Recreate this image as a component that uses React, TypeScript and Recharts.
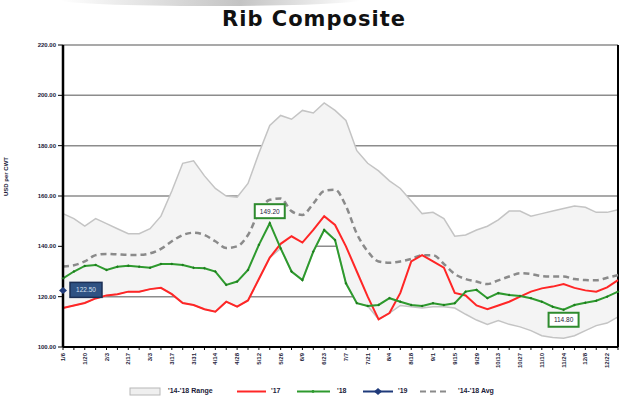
import { ComposedChart, Area, Line, XAxis, YAxis, CartesianGrid, ReferenceLine, LabelList } from 'recharts';

const weeks = [
  '1/6', '1/13', '1/20', '1/27', '2/3', '2/10', '2/17', '2/24', '3/3', '3/10',
  '3/17', '3/24', '3/31', '4/7', '4/14', '4/21', '4/28', '5/5', '5/12', '5/19',
  '5/26', '6/2', '6/9', '6/16', '6/23', '6/30', '7/7', '7/14', '7/21', '7/28',
  '8/4', '8/11', '8/18', '8/25', '9/1', '9/8', '9/15', '9/22', '9/29', '10/6',
  '10/13', '10/20', '10/27', '11/3', '11/10', '11/17', '11/24', '12/1', '12/8', '12/15',
  '12/22', '12/29',
];

const rangeMax = [
  153, 151, 148, 151, 149, 147, 145, 145, 147, 152,
  162, 173, 174, 168, 163, 160, 159.5, 165, 177, 188,
  192, 190.5, 194, 193, 197, 194, 190, 178, 173, 170,
  166, 163, 158, 153, 153.5, 151, 144, 144.5, 146.5, 148,
  150.5, 154, 154, 152, 153, 154, 155, 156, 155.5, 153.5,
  153.5, 154.5,
];

const rangeMin = [
  115.5, 116.5, 117.5, 119.3, 120.5, 121, 122, 122, 123, 123.5,
  121, 117.5, 116.7, 115, 114, 118, 116, 118.5, 127, 135.5,
  139.2, 130, 126.6, 137.9, 146.5, 142.5, 125.3, 117.4, 116.3, 111,
  113.5, 116.5, 116, 115.5, 116, 116, 115.5, 113, 110.7, 109,
  110.5, 109, 108, 106.5, 104.5, 103.8, 103.5, 104.5, 106.5, 108.5,
  109.5, 112,
];

const avgVals = [
  132, 132.5, 134, 136.5, 137, 136.8, 136.6, 136.6, 137.2, 139,
  142, 144.5, 145.4, 144.5, 142, 139.3, 140, 144.5, 153.5, 158.5,
  159, 154, 152.5, 157, 162, 162.5, 156, 145, 138, 134,
  133.5, 134, 135, 136.5, 136.5, 133, 129, 127, 126, 125,
  126.5, 128, 129.3, 129, 128.2, 128, 128, 127, 126.6, 126.5,
  127.5, 128.6,
];

const vals17 = [
  115.5, 116.5, 117.5, 119.3, 120.5, 121, 122, 122, 123, 123.5,
  121, 117.5, 116.7, 115, 114, 118, 116, 118.5, 127, 135.5,
  141, 144, 141.5, 146.5, 152, 148.5, 140, 130, 120, 111,
  113.5, 121.5, 134, 136.5, 134, 131.5, 121.5, 120.5, 116.5, 115,
  116.5, 118, 120, 122, 123.3, 124, 125, 123.5, 122.5, 122,
  123.7, 126.6,
];

const vals18 = [
  127.3, 130, 132.2, 132.6, 130.6, 131.9, 132.3, 131.9, 131.5, 133,
  133, 132.6, 131.5, 131.3, 130, 124.7, 126, 130.6, 140.6, 149.2,
  139.2, 130, 126.6, 137.9, 146.5, 142.5, 125.3, 117.4, 116.3, 116.7,
  119.4, 118, 116.7, 116.3, 117.4, 116.7, 117.4, 122, 122.7, 119.4,
  121.4, 120.7, 120.3, 119.4, 118, 116, 114.8, 116.7, 117.6, 118.4,
  120, 122,
];

const vals19 = [122.5];

const yTicks = [100, 120, 140, 160, 180, 200, 220];

const data = weeks.map((w, i) => ({
  week: w,
  range: [rangeMin[i], rangeMax[i]],
  avg: avgVals[i],
  y17: vals17[i],
  y18: vals18[i],
  y19: i < vals19.length ? vals19[i] : null,
}));

const max18 = Math.max(...vals18);
const min18 = Math.min(...vals18);

const smallFont = '"Liberation Sans", Arial, sans-serif';
const textColor = '#1c1c3a';

const WeekTick = (props: any) => {
  const { x, y, payload, index } = props;
  if (index % 2 !== 0) return null;
  return (
    <g transform={`translate(${x},${y + 1}) rotate(-90)`}>
      <text textAnchor="end" dy={2} fontSize={6} fontWeight="bold" fontFamily={smallFont} fill={textColor}>
        {payload.value}
      </text>
    </g>
  );
};

const Label18 = (props: any) => {
  const { x, y, value } = props;
  if (value !== max18 && value !== min18) return null;
  const above = value === max18;
  const bx = x - 15;
  const by = above ? y - 19 : y + 3;
  return (
    <g>
      <rect x={bx} y={by} width={30} height={14} fill="#fff" stroke="#2e8b2e" strokeWidth={2} />
      <text x={x} y={by + 9.5} textAnchor="middle" fontSize={6.5} fontFamily={smallFont} fill={textColor}>
        {Number(value).toFixed(2)}
      </text>
    </g>
  );
};

const Label19 = (props: any) => {
  const { x, y, value } = props;
  if (value == null) return null;
  return (
    <g>
      <rect x={x + 7} y={y - 8} width={32} height={15} fill="#2f5283" stroke="#1b2f55" strokeWidth={1.5} />
      <text x={x + 23} y={y + 2} textAnchor="middle" fontSize={6.5} fontFamily={smallFont} fill="#d6e0f0">
        {Number(value).toFixed(2)}
      </text>
    </g>
  );
};

const Diamond = (props: any) => {
  const { cx, cy, value } = props;
  if (value == null || cx == null) return <g />;
  return <path d={`M${cx - 4},${cy} L${cx},${cy - 3.5} L${cx + 4},${cy} L${cx},${cy + 3.5} Z`} fill="#1f3a7a" />;
};

const legendText: React.CSSProperties = {
  position: 'absolute',
  top: 0,
  fontSize: 7,
  fontWeight: 'bold',
  fontFamily: smallFont,
  color: textColor,
  lineHeight: '10px',
};

function ChartLegend() {
  return (
    <div style={{ position: 'absolute', left: 0, top: 386, width: 621, height: 12 }}>
      <svg width={621} height={12} style={{ position: 'absolute', left: 0, top: 0 }}>
        <rect x={130} y={2} width={30} height={7} fill="#efefef" stroke="#b8b8b8" strokeWidth={1} />
        <line x1={237} y1={5.5} x2={266} y2={5.5} stroke="#ff2626" strokeWidth={2} />
        <line x1={297} y1={5.5} x2={330} y2={5.5} stroke="#2e9a2e" strokeWidth={2} />
        <circle cx={313} cy={5.5} r={1.4} fill="#2e9a2e" />
        <line x1={363} y1={5.5} x2={393} y2={5.5} stroke="#1f3a7a" strokeWidth={2} />
        <path d="M374,5.5 L378,2 L382,5.5 L378,9 Z" fill="#1f3a7a" />
        <line x1={420} y1={5.5} x2={448} y2={5.5} stroke="#8a8a8a" strokeWidth={2} strokeDasharray="6 4" />
      </svg>
      <span style={{ ...legendText, left: 168 }}>'14-'18 Range</span>
      <span style={{ ...legendText, left: 271 }}>'17</span>
      <span style={{ ...legendText, left: 337 }}>'18</span>
      <span style={{ ...legendText, left: 398 }}>'19</span>
      <span style={{ ...legendText, left: 458 }}>'14-'18 Avg</span>
    </div>
  );
}

export default function App() {
  return (
    <div style={{ position: 'relative', width: 621, height: 402, background: '#fff', overflow: 'hidden' }}>
      <style>{'body{margin:0;}'}</style>
      <div
        style={{
          position: 'absolute',
          left: 60,
          top: -6,
          width: 300,
          height: 12,
          borderRadius: '50%',
          background: 'linear-gradient(90deg, rgba(200,200,200,0) 0%, rgba(170,170,170,0.7) 60%, rgba(220,220,220,0) 100%)',
        }}
      />
      <div
        style={{
          position: 'absolute',
          left: 0,
          top: 7,
          width: 628,
          textAlign: 'center',
          fontFamily: '"DejaVu Sans", Verdana, sans-serif',
          fontWeight: 'bold',
          fontSize: 21,
          letterSpacing: 1,
          color: '#111',
          lineHeight: '24px',
        }}
      >
        Rib Composite
      </div>
      <div style={{ position: 'absolute', left: 0, top: 0 }}>
        <ComposedChart width={621} height={402} data={data} margin={{ top: 45, right: 3, bottom: 0, left: 0 }}>
          <CartesianGrid vertical={false} stroke="#8c8c8c" strokeWidth={1.5} />
          <XAxis
            dataKey="week"
            scale="point"
            interval={0}
            height={55}
            tick={<WeekTick />}
            tickSize={3}
            tickLine={{ stroke: '#000' }}
            axisLine={{ stroke: '#000', strokeWidth: 2 }}
          />
          <YAxis
            domain={[100, 220]}
            ticks={yTicks}
            width={63}
            tickSize={5}
            tickFormatter={(v: number) => v.toFixed(2)}
            tick={{ fontSize: 6, fontWeight: 'bold', fontFamily: smallFont, fill: textColor }}
            tickLine={{ stroke: '#000' }}
            axisLine={{ stroke: '#000', strokeWidth: 2.5 }}
            label={{
              value: 'USD per CWT',
              angle: -90,
              position: 'insideLeft',
              offset: 6,
              style: { fontSize: 6, fontWeight: 'bold', fontFamily: smallFont, fill: textColor },
            }}
          />
          <Area
            dataKey="range"
            type="linear"
            fill="#f4f4f4"
            fillOpacity={1}
            stroke="#c4c4c4"
            strokeWidth={1.5}
            isAnimationActive={false}
          />
          <ReferenceLine x={weeks[weeks.length - 1]} stroke="#000" strokeWidth={2} />
          <Line
            dataKey="avg"
            type="monotone"
            stroke="#8a8a8a"
            strokeWidth={2.5}
            strokeDasharray="6 4"
            dot={false}
            isAnimationActive={false}
          />
          <Line dataKey="y17" type="linear" stroke="#ff2626" strokeWidth={2} dot={false} isAnimationActive={false} />
          <Line
            dataKey="y18"
            type="linear"
            stroke="#2e9a2e"
            strokeWidth={2}
            dot={{ r: 0.9, fill: '#1d7a1d', stroke: '#1d7a1d', strokeWidth: 0.5 }}
            isAnimationActive={false}
          >
            <LabelList dataKey="y18" content={<Label18 />} />
          </Line>
          <Line
            dataKey="y19"
            type="linear"
            stroke="#1f3a7a"
            strokeWidth={2}
            dot={<Diamond />}
            isAnimationActive={false}
          >
            <LabelList dataKey="y19" content={<Label19 />} />
          </Line>
        </ComposedChart>
      </div>
      <ChartLegend />
    </div>
  );
}
